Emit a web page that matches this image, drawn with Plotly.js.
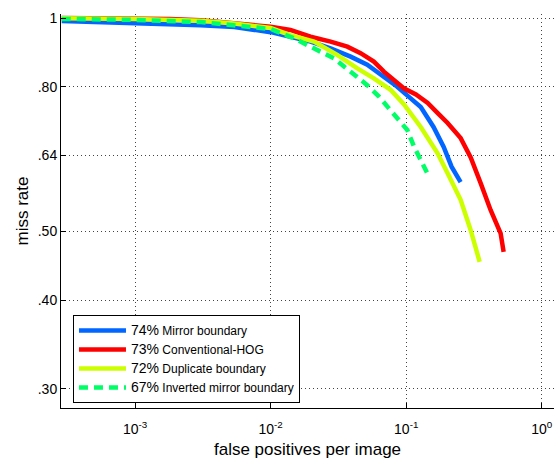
<!DOCTYPE html>
<html>
<head>
<meta charset="utf-8">
<script src="https://cdn.plot.ly/plotly-3.0.1.min.js"></script>
<style>html,body{margin:0;padding:0;background:#fff;}#chart{width:554px;height:459px;}</style>
</head>
<body>
<div id="chart"></div>
<script>
// Mirror boundary (74%)
const mirrorFppi = [2.88e-4, 1.0e-3, 3.05e-3, 5.4e-3, 0.0100, 0.0140, 0.0197, 0.0277, 0.0389, 0.0516, 0.0685, 0.0859, 0.1047, 0.128, 0.159, 0.189, 0.216, 0.252];
const mirrorMiss = [0.990, 0.984, 0.977, 0.971, 0.955, 0.941, 0.926, 0.906, 0.882, 0.859, 0.827, 0.800, 0.774, 0.749, 0.702, 0.658, 0.617, 0.587];
// Conventional-HOG (73%)
const hogFppi = [2.88e-4, 1.0e-3, 1.8e-3, 3.05e-3, 5.4e-3, 0.0100, 0.0140, 0.0197, 0.0277, 0.0368, 0.0461, 0.0577, 0.0685, 0.0811, 0.0960, 0.118, 0.144, 0.170, 0.202, 0.252, 0.299, 0.354, 0.419, 0.497, 0.523];
const hogMiss = [1.000, 1.000, 0.997, 0.993, 0.984, 0.972, 0.962, 0.941, 0.926, 0.911, 0.892, 0.868, 0.840, 0.818, 0.796, 0.780, 0.759, 0.735, 0.711, 0.677, 0.636, 0.585, 0.536, 0.497, 0.468];
// Duplicate boundary (72%)
const dupFppi = [2.88e-4, 1.0e-3, 3.05e-3, 5.4e-3, 0.0100, 0.0140, 0.0209, 0.0310, 0.0436, 0.0577, 0.0767, 0.0960, 0.128, 0.170, 0.202, 0.252, 0.299, 0.336, 0.348];
const dupMiss = [0.999, 0.997, 0.991, 0.982, 0.968, 0.946, 0.926, 0.887, 0.849, 0.822, 0.792, 0.756, 0.702, 0.645, 0.604, 0.554, 0.502, 0.466, 0.453];
// Inverted mirror boundary (67%)
const invFppi = [2.88e-4, 1.0e-3, 3.05e-3, 5.4e-3, 0.0100, 0.01486, 0.0209, 0.0293, 0.0389, 0.0516, 0.0625, 0.0811, 0.1019, 0.114, 0.135, 0.143];
const invMiss = [0.997, 0.994, 0.987, 0.978, 0.965, 0.936, 0.906, 0.877, 0.840, 0.804, 0.776, 0.732, 0.695, 0.659, 0.617, 0.604];

const seriesPct = ['74%', '73%', '72%', '67%'];
const seriesLabels = ['Mirror boundary', 'Conventional-HOG', 'Duplicate boundary', 'Inverted mirror boundary'];
const yTickVals = [0.30, 0.40, 0.50, 0.64, 0.80, 1];
const yTickText = ['.30', '.40', '.50', '.64', '.80', '1'];
const xTickVals = [1e-3, 1e-2, 1e-1, 1];
const xTickText = ['10<sup>-3</sup>', '10<sup>-2</sup>', '10<sup>-1</sup>', '10<sup>0</sup>'];

function nm(i) {
  return '<span style="font-size:14px">' + seriesPct[i] + '</span> ' + seriesLabels[i];
}

const traces = [
  {x: mirrorFppi, y: mirrorMiss, name: nm(0), line: {color: '#0066ff', width: 4.5}},
  {x: hogFppi, y: hogMiss, name: nm(1), line: {color: '#ff0000', width: 4.5}},
  {x: dupFppi, y: dupMiss, name: nm(2), line: {color: '#ccff00', width: 4.5}},
  {x: invFppi, y: invMiss, name: nm(3), line: {color: '#00ff66', width: 4.5, dash: '9px,6px'}}
].map(t => Object.assign({type: 'scatter', mode: 'lines'}, t));

const layout = {
  width: 554, height: 459,
  margin: {l: 61, r: 0, t: 14, b: 51},
  paper_bgcolor: '#fff', plot_bgcolor: '#fff',
  font: {family: 'Liberation Sans, Arial, sans-serif', color: '#000', size: 13},
  showlegend: true,
  legend: {
    x: 0.0243, y: 0.236, xanchor: 'left', yanchor: 'top',
    bgcolor: '#fff', bordercolor: '#000', borderwidth: 1,
    font: {size: 12}, itemwidth: 47, tracegroupgap: 0
  },
  xaxis: {
    type: 'log', range: [-3.546, 0.090],
    tickvals: xTickVals, ticktext: xTickText,
    ticks: 'inside', ticklen: 5, tickcolor: '#000',
    showline: true, linecolor: '#000', linewidth: 1, mirror: false,
    showgrid: true, gridcolor: '#444', griddash: '1px,3px', gridwidth: 1,
    zeroline: false,
    tickfont: {size: 14},
    ticklabelstandoff: 8,
    title: {text: 'false positives per image', font: {size: 17}, standoff: 8}
  },
  yaxis: {
    type: 'log', range: [-0.5501, 0.00564],
    tickvals: yTickVals, ticktext: yTickText,
    ticks: 'inside', ticklen: 5, tickcolor: '#000',
    showline: true, linecolor: '#000', linewidth: 1, mirror: false,
    showgrid: true, gridcolor: '#444', griddash: '1px,3px', gridwidth: 1,
    zeroline: false,
    tickfont: {size: 14},
    title: {text: 'miss rate', font: {size: 17}, standoff: 4}
  }
};

Plotly.newPlot('chart', traces, layout, {displayModeBar: false, staticPlot: true});
</script>
</body>
</html>
